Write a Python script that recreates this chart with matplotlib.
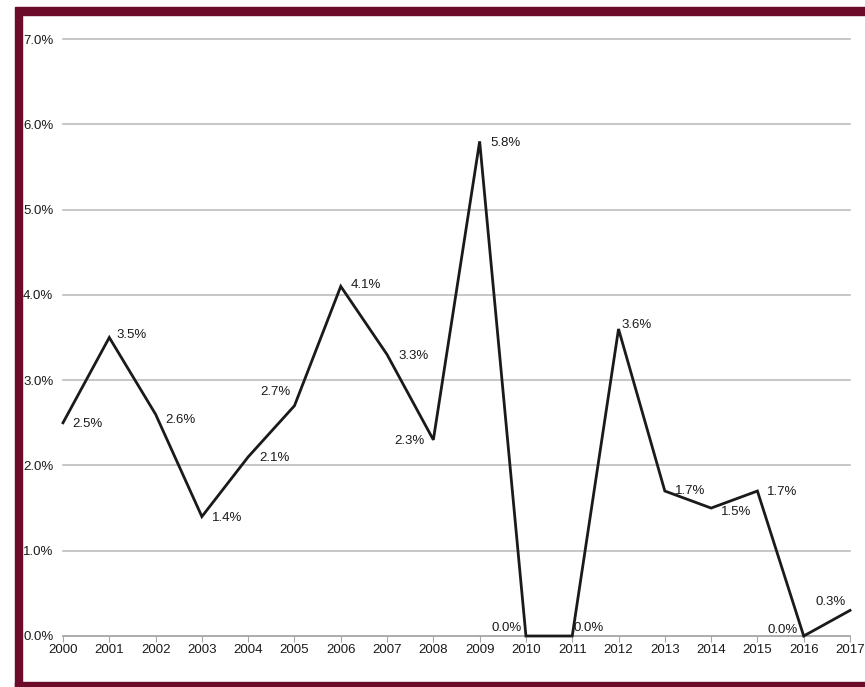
import matplotlib.pyplot as plt
from matplotlib.patches import Rectangle
from matplotlib.ticker import FuncFormatter

plt.rcParams["font.family"] = ["Liberation Sans", "DejaVu Sans"]

years = list(range(2000, 2018))
rates = [2.5, 3.5, 2.6, 1.4, 2.1, 2.7, 4.1, 3.3, 2.3, 5.8,
         0.0, 0.0, 3.6, 1.7, 1.5, 1.7, 0.0, 0.3]
# label offsets (points) and alignment for each data label
offsets = [(7, -1), (5, 2), (7, -4), (7, -1), (8, -1), (-3, 10), (7, 1), (8, -1), (-6, -1), (8, -1),
           (-3, 6), (1, 6), (2, 3), (7, 0), (7, -3), (7, -1), (-4, 4), (-3, 6)]
aligns = ["left", "left", "left", "left", "left", "right", "left", "left", "right", "left",
          "right", "left", "left", "left", "left", "left", "right", "right"]

fig = plt.figure(figsize=(8.65, 6.87), dpi=100)
ax = fig.add_axes([63 / 865, 1 - 636 / 687, (850 - 63) / 865, (636 - 39) / 687])

ax.plot(years, rates, color="#1a1a1a", lw=2.0, solid_joinstyle="miter", zorder=5, clip_on=False)
for x, y, off, ha in zip(years, rates, offsets, aligns):
    ax.annotate(f"{y:.1f}%", (x, y), xytext=off, textcoords="offset points",
                ha=ha, va="center", fontsize=9.5, color="#1a1a1a")

ax.set_xlim(2000, 2017)
ax.set_ylim(0, 7)
ax.set_xticks(years)
ax.set_yticks(range(0, 8))
ax.yaxis.set_major_formatter(FuncFormatter(lambda v, p: f"{v:.1f}%"))
ax.grid(axis="y", color="#bdbdbd", lw=1.2)
for gl in ax.get_ygridlines():
    gl.set_clip_on(False)
ax.set_axisbelow(True)
for s in ["top", "right", "left"]:
    ax.spines[s].set_visible(False)
ax.spines["bottom"].set_color("#a8a8a8")
ax.spines["bottom"].set_linewidth(1.2)
ax.tick_params(axis="y", length=0, pad=7, labelsize=9.5, labelcolor="#1a1a1a")
ax.tick_params(axis="x", length=4, color="#a8a8a8", labelsize=9.5, labelcolor="#1a1a1a", pad=2)

maroon = "#6d0b2b"
W, H = 865, 687
fig.patches.append(Rectangle((15 / W, 1 - 15 / H), 1 - 15 / W, 8 / H, transform=fig.transFigure, color=maroon))
fig.patches.append(Rectangle((15 / W, 0), 7.5 / W, 1 - 15 / H, transform=fig.transFigure, color=maroon))
fig.patches.append(Rectangle((15 / W, 0), 1 - 15 / W, 5 / H, transform=fig.transFigure, color=maroon))

fig.savefig("out.png", dpi=100)
